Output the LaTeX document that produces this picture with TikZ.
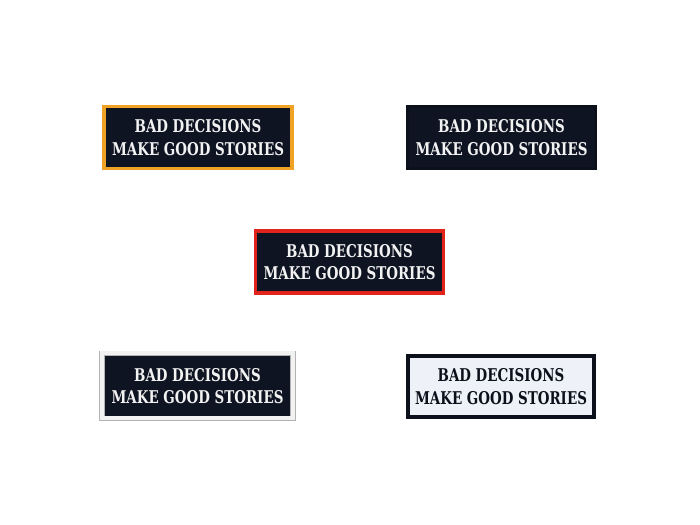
\documentclass[tikz,border=0pt]{standalone}
\usepackage{fontspec}
\newfontfamily\patchfont{DejaVu Serif Condensed}[FakeStretch=0.85]

\definecolor{navy}{HTML}{0F1422}
\definecolor{gold}{HTML}{EFA224}
\definecolor{scarlet}{HTML}{E2231B}
\definecolor{icewhite}{HTML}{EEF2F8}
\definecolor{thread}{HTML}{F2F2F2}

\begin{document}
\begin{tikzpicture}[x=0.5mm, y=0.5mm,
  patch/.style={draw, fill=navy, text=thread, line width=1.75mm,
    minimum width=94.2mm, minimum height=31.2mm, inner sep=0pt,
    align=center, font=\patchfont\bfseries\fontsize{25}{32}\selectfont}]

\useasboundingbox (0,0) rectangle (700,525);

% top row
\node[patch, draw=gold] (p1) at (198,387.5) {BAD DECISIONS\\MAKE GOOD STORIES};
\node[patch, draw=navy!80!black] (p2) at (501.5,387.5) {BAD DECISIONS\\MAKE GOOD STORIES};

% middle
\node[patch, draw=scarlet] (p3) at (349.5,263) {BAD DECISIONS\\MAKE GOOD STORIES};

% bottom row
\node[patch, draw=black!30, line width=0.3mm, double=thread, double distance=2mm,
  minimum width=95.5mm, minimum height=32.5mm] (p4) at (197.5,139) {BAD DECISIONS\\MAKE GOOD STORIES};
\node[patch, draw=navy!80!black, fill=icewhite, text=navy!80!black, line width=2mm,
  minimum width=93mm, minimum height=30.5mm] (p5) at (501,138.5) {BAD DECISIONS\\MAKE GOOD STORIES};

\end{tikzpicture}
\end{document}
